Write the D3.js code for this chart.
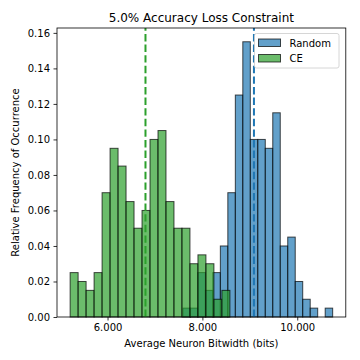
<!DOCTYPE html>
<meta charset="utf-8">
<html>
    <head>
        <style type="text/css">
            body { margin:0; background:#fff; }
            svg { display:block; }
            .graphText { font-family: "DejaVu Sans", sans-serif; fill:#000; }
        </style>
        <script src="https://d3js.org/d3.v7.min.js"></script>
    </head>
    <body>
        <svg width="360" height="360"></svg>
        <script type="text/javascript">
            // histogram bin ranges (20 bins each) and relative frequencies
            var seriesNames = ["Random", "CE"];
            var seriesColors = ["#1f77b4", "#2ca02c"];
            var randomRange = [7.589, 10.747];
            var ceRange = [5.211, 8.580];
            var randomFreq = [0.005, 0.005, 0.025, 0.015, 0.025, 0.040, 0.070, 0.125, 0.155, 0.100,
                              0.100, 0.095, 0.115, 0.040, 0.045, 0.020, 0.010, 0.005, 0.000, 0.005];
            var ceFreq = [0.025, 0.020, 0.015, 0.025, 0.070, 0.095, 0.085, 0.065, 0.050, 0.060,
                          0.100, 0.105, 0.065, 0.050, 0.050, 0.030, 0.035, 0.030, 0.010, 0.015];
            var meanValues = [9.087, 6.800];
            var xTicks = [6, 8, 10];
            var yTicks = [0, 0.02, 0.04, 0.06, 0.08, 0.10, 0.12, 0.14, 0.16];

            var margin = {top: 28, bottom: 43, left: 57, right: 14.2};
            var width = 360, height = 360;

            // matplotlib-like 5% margins
            var lo = Math.min(randomRange[0], ceRange[0]), hi = Math.max(randomRange[1], ceRange[1]);
            var pad = (hi - lo) * 0.05;
            var xScale = d3.scaleLinear()
                .domain([lo - pad, hi + pad])
                .range([margin.left, width - margin.right]);
            var yMax = d3.max(randomFreq.concat(ceFreq)) * 1.05;
            var yScale = d3.scaleLinear()
                .domain([0, yMax])
                .range([height - margin.bottom, margin.top]);

            function bins(range, freq) {
                var w = (range[1] - range[0]) / freq.length;
                return freq.map((f, i) => ({x0: range[0] + i * w, x1: range[0] + (i + 1) * w, f: f}));
            }

            var svg = d3.select("svg");
            var series = [bins(randomRange, randomFreq), bins(ceRange, ceFreq)];

            series.forEach((s, k) => {
                svg.append("g").selectAll("rect")
                    .data(s.filter(d => d.f > 0))
                    .enter().append("rect")
                    .attr("x", d => xScale(d.x0))
                    .attr("y", d => yScale(d.f))
                    .attr("width", d => xScale(d.x1) - xScale(d.x0))
                    .attr("height", d => yScale(0) - yScale(d.f))
                    .attr("fill", seriesColors[k])
                    .attr("fill-opacity", 0.7)
                    .attr("stroke", "#000")
                    .attr("stroke-opacity", 0.7)
                    .attr("stroke-width", 1);
            });

            // mean lines (dash pattern starts at the bottom like matplotlib)
            svg.selectAll("line.mean")
                .data(meanValues)
                .enter().append("line")
                .attr("class", "mean")
                .attr("x1", d => xScale(d))
                .attr("x2", d => xScale(d))
                .attr("y1", height - margin.bottom)
                .attr("y2", margin.top)
                .attr("stroke", (d, i) => seriesColors[i])
                .attr("stroke-width", 2)
                .attr("stroke-dasharray", "7.4,3.2");

            // frame
            svg.append("rect")
                .attr("x", margin.left)
                .attr("y", margin.top)
                .attr("width", width - margin.left - margin.right)
                .attr("height", height - margin.top - margin.bottom)
                .attr("fill", "none")
                .attr("stroke", "#000")
                .attr("stroke-width", 0.8);

            var xAxis = d3.axisBottom(xScale)
                .tickValues(xTicks)
                .tickFormat(d3.format(".3f"))
                .tickSize(3.5)
                .tickPadding(3.5);
            var yAxis = d3.axisLeft(yScale)
                .tickValues(yTicks)
                .tickFormat(d3.format(".2f"))
                .tickSize(3.5)
                .tickPadding(3.5);

            var gx = svg.append("g")
                .attr("class", "graphText")
                .attr("transform", "translate(" + [0, height - margin.bottom] + ")")
                .call(xAxis);
            var gy = svg.append("g")
                .attr("class", "graphText")
                .attr("transform", "translate(" + [margin.left, 0] + ")")
                .call(yAxis);
            [gx, gy].forEach(g => {
                g.select(".domain").remove();
                g.selectAll("text").style("font-family", "DejaVu Sans").style("font-size", "10px").attr("fill", "#000");
                g.selectAll("line").attr("stroke", "#000").attr("stroke-width", 0.8);
            });

            svg.append("text")
                .attr("class", "graphText")
                .attr("x", (margin.left + width - margin.right) / 2)
                .attr("y", 22)
                .style("text-anchor", "middle")
                .style("font-size", "12px")
                .text("5.0% Accuracy Loss Constraint");

            svg.append("text")
                .attr("class", "graphText")
                .attr("x", (margin.left + width - margin.right) / 2)
                .attr("y", 347)
                .style("text-anchor", "middle")
                .style("font-size", "10px")
                .text("Average Neuron Bitwidth (bits)");

            svg.append("text")
                .attr("class", "graphText")
                .attr("transform", "translate(19," + (margin.top + height - margin.bottom) / 2 + ") rotate(-90)")
                .style("text-anchor", "middle")
                .style("font-size", "10px")
                .text("Relative Frequency of Occurrence");

            // legend
            var legend = svg.append("g").attr("transform", "translate(254.5,33.5)");
            legend.append("rect")
                .attr("width", 84.5)
                .attr("height", 34.5)
                .attr("rx", 2)
                .attr("fill", "#fff")
                .attr("fill-opacity", 0.8)
                .attr("stroke", "#ccc")
                .attr("stroke-width", 0.8);
            seriesNames.forEach((name, i) => {
                legend.append("rect")
                    .attr("x", 4)
                    .attr("y", 5.5 + i * 15.5)
                    .attr("width", 22)
                    .attr("height", 7.5)
                    .attr("fill", seriesColors[i])
                    .attr("fill-opacity", 0.7)
                    .attr("stroke", "#000")
                    .attr("stroke-opacity", 0.7)
                    .attr("stroke-width", 1);
                legend.append("text")
                    .attr("class", "graphText")
                    .attr("x", 35)
                    .attr("y", 13 + i * 15.5)
                    .style("font-size", "10px")
                    .text(name);
            });
        </script>
    </body>
</html>
